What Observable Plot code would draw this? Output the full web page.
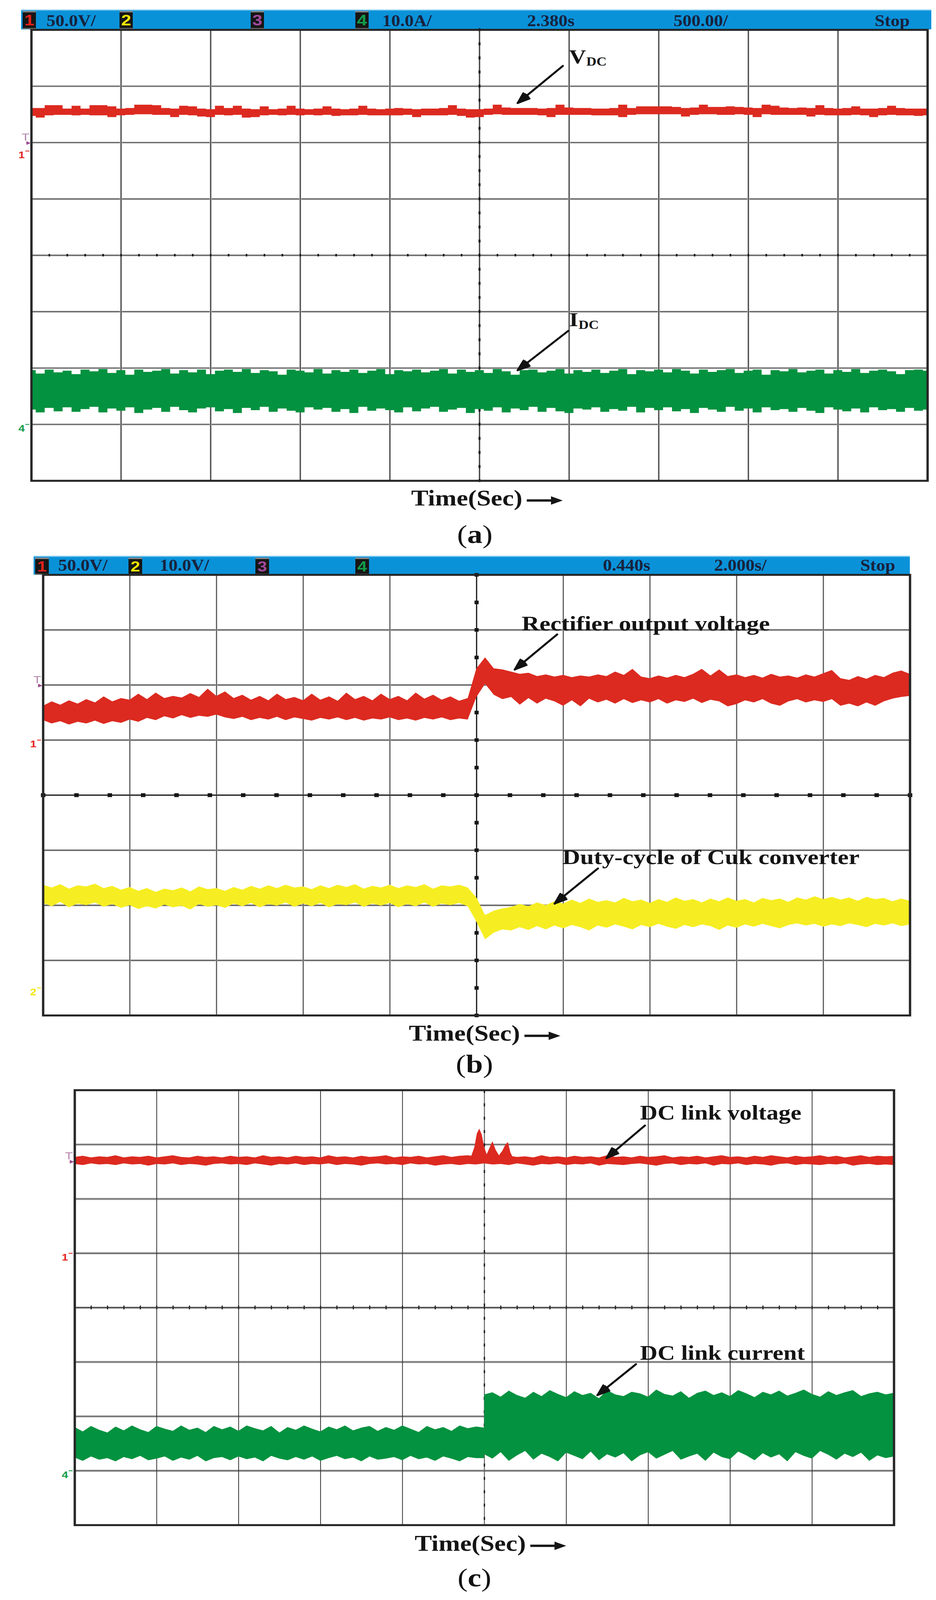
<!DOCTYPE html>
<html>
<head>
<meta charset="utf-8">
<script src="https://cdn.jsdelivr.net/npm/d3@7"></script>
<script src="https://cdn.jsdelivr.net/npm/@observablehq/plot@0.6"></script>
<style>
html, body { margin: 0; padding: 0; background: #fff; overflow: hidden; }
#page { position: relative; width: 2397px; height: 4797px; overflow: hidden; background: #fff; }
#page svg { display: block; }
</style>
</head>
<body>
<div id="page"></div>
<script>
// ---------------- DATA (in scope divisions) ----------------
const xs = d3.range(101).map(i => (i - 50) / 10);

const aVdcHi = [
  2.61,2.61,2.66,2.66,2.60,2.65,2.60,2.66,2.66,2.64,
  2.60,2.61,2.67,2.67,2.66,2.61,2.60,2.65,2.64,2.60,
  2.59,2.65,2.61,2.65,2.60,2.59,2.64,2.59,2.60,2.65,
  2.60,2.59,2.60,2.64,2.60,2.59,2.60,2.65,2.60,2.59,
  2.60,2.61,2.60,2.59,2.60,2.60,2.61,2.66,2.60,2.59,
  2.59,2.60,2.67,2.62,2.61,2.61,2.61,2.60,2.61,2.67,
  2.62,2.61,2.61,2.60,2.60,2.61,2.67,2.61,2.64,2.64,
  2.64,2.64,2.63,2.61,2.62,2.67,2.63,2.63,2.64,2.63,
  2.62,2.61,2.67,2.65,2.62,2.61,2.62,2.61,2.66,2.61,
  2.60,2.61,2.64,2.60,2.60,2.61,2.65,2.61,2.60,2.60,
  2.60];
const aVdcLo = [
  2.47,2.44,2.48,2.49,2.49,2.48,2.49,2.48,2.48,2.45,
  2.48,2.49,2.50,2.50,2.49,2.49,2.45,2.49,2.48,2.46,
  2.45,2.49,2.48,2.49,2.44,2.45,2.48,2.49,2.48,2.49,
  2.48,2.49,2.48,2.49,2.47,2.48,2.48,2.49,2.48,2.48,
  2.48,2.48,2.49,2.45,2.48,2.48,2.48,2.49,2.47,2.44,
  2.45,2.49,2.50,2.49,2.49,2.49,2.49,2.48,2.45,2.49,
  2.49,2.49,2.49,2.48,2.48,2.48,2.45,2.49,2.50,2.50,
  2.50,2.50,2.50,2.46,2.49,2.50,2.50,2.49,2.49,2.50,
  2.49,2.45,2.50,2.49,2.49,2.49,2.49,2.46,2.49,2.48,
  2.48,2.48,2.49,2.48,2.45,2.48,2.49,2.48,2.48,2.47,
  2.48];
const aIdcHi = [
  -2.04,-2.10,-2.03,-2.08,-2.05,-2.11,-2.03,-2.06,-2.02,-2.09,
  -2.04,-2.12,-2.03,-2.07,-2.05,-2.02,-2.10,-2.04,-2.08,-2.03,
  -2.11,-2.05,-2.03,-2.07,-2.02,-2.09,-2.04,-2.06,-2.12,-2.03,
  -2.05,-2.08,-2.02,-2.10,-2.04,-2.07,-2.03,-2.09,-2.05,-2.02,
  -2.11,-2.04,-2.06,-2.03,-2.08,-2.05,-2.02,-2.10,-2.03,-2.07,
  -2.04,-2.09,-2.02,-2.06,-2.12,-2.04,-2.03,-2.08,-2.05,-2.02,
  -2.10,-2.04,-2.07,-2.03,-2.09,-2.05,-2.02,-2.11,-2.04,-2.06,
  -2.03,-2.08,-2.02,-2.05,-2.10,-2.03,-2.07,-2.04,-2.02,-2.09,
  -2.05,-2.03,-2.12,-2.04,-2.06,-2.02,-2.08,-2.05,-2.03,-2.10,
  -2.04,-2.07,-2.02,-2.09,-2.05,-2.03,-2.06,-2.11,-2.04,-2.03,
  -2.05];
const aIdcLo = [
  -2.74,-2.79,-2.71,-2.77,-2.70,-2.78,-2.73,-2.69,-2.79,-2.72,
  -2.76,-2.70,-2.80,-2.74,-2.71,-2.78,-2.69,-2.75,-2.79,-2.72,
  -2.70,-2.77,-2.73,-2.80,-2.71,-2.75,-2.69,-2.78,-2.72,-2.76,
  -2.79,-2.70,-2.74,-2.71,-2.78,-2.73,-2.80,-2.69,-2.76,-2.72,
  -2.75,-2.79,-2.70,-2.77,-2.72,-2.69,-2.78,-2.74,-2.71,-2.80,
  -2.73,-2.76,-2.70,-2.79,-2.72,-2.75,-2.69,-2.78,-2.71,-2.77,
  -2.80,-2.72,-2.74,-2.70,-2.78,-2.73,-2.76,-2.69,-2.79,-2.71,
  -2.75,-2.70,-2.77,-2.73,-2.80,-2.71,-2.74,-2.78,-2.69,-2.76,
  -2.72,-2.79,-2.70,-2.75,-2.73,-2.78,-2.71,-2.76,-2.80,-2.70,
  -2.74,-2.77,-2.72,-2.79,-2.70,-2.75,-2.73,-2.78,-2.71,-2.76,
  -2.74];

const bRectHi = [
  1.62,1.70,1.64,1.72,1.66,1.74,1.68,1.79,1.70,1.76,
  1.73,1.84,1.74,1.86,1.76,1.80,1.77,1.85,1.78,1.93,
  1.80,1.88,1.76,1.82,1.73,1.80,1.72,1.84,1.74,1.78,
  1.72,1.84,1.73,1.79,1.71,1.86,1.74,1.80,1.72,1.84,
  1.74,1.80,1.72,1.86,1.75,1.82,1.73,1.79,1.71,1.76,
  2.30,2.50,2.30,2.28,2.24,2.20,2.22,2.16,2.19,2.15,
  2.18,2.14,2.17,2.15,2.19,2.16,2.24,2.18,2.29,2.15,
  2.12,2.17,2.13,2.18,2.14,2.20,2.29,2.17,2.28,2.16,
  2.19,2.14,2.18,2.13,2.20,2.15,2.17,2.13,2.19,2.15,
  2.21,2.27,2.12,2.09,2.16,2.11,2.18,2.14,2.22,2.26,
  2.20];
const bRectLo = [
  1.36,1.30,1.34,1.28,1.33,1.30,1.35,1.29,1.34,1.31,
  1.37,1.33,1.40,1.36,1.43,1.39,1.45,1.40,1.44,1.42,
  1.46,1.41,1.38,1.42,1.36,1.40,1.37,1.42,1.36,1.41,
  1.38,1.35,1.40,1.37,1.41,1.36,1.40,1.35,1.39,1.37,
  1.41,1.36,1.39,1.35,1.40,1.37,1.41,1.36,1.39,1.37,
  1.78,2.02,1.82,1.74,1.78,1.64,1.76,1.66,1.75,1.70,
  1.62,1.72,1.61,1.75,1.68,1.73,1.66,1.74,1.67,1.72,
  1.68,1.74,1.66,1.72,1.69,1.75,1.67,1.73,1.70,1.61,
  1.65,1.72,1.68,1.74,1.66,1.62,1.70,1.74,1.68,1.72,
  1.69,1.74,1.62,1.66,1.61,1.68,1.62,1.70,1.75,1.78,
  1.80];
const bDutyHi = [
  -1.63,-1.68,-1.62,-1.70,-1.64,-1.66,-1.61,-1.69,-1.65,-1.72,
  -1.67,-1.74,-1.69,-1.76,-1.70,-1.73,-1.68,-1.75,-1.66,-1.71,
  -1.69,-1.74,-1.67,-1.72,-1.65,-1.70,-1.64,-1.69,-1.63,-1.68,
  -1.66,-1.71,-1.64,-1.69,-1.63,-1.67,-1.62,-1.70,-1.65,-1.68,
  -1.63,-1.69,-1.64,-1.67,-1.62,-1.70,-1.64,-1.66,-1.63,-1.68,
  -1.86,-2.18,-2.10,-2.06,-2.03,-1.98,-2.02,-1.95,-2.00,-1.93,
  -1.97,-1.90,-1.96,-1.88,-1.94,-1.91,-1.95,-1.87,-1.93,-1.90,
  -1.96,-1.89,-1.94,-1.86,-1.92,-1.89,-1.95,-1.88,-1.93,-1.86,
  -1.92,-1.89,-1.95,-1.87,-1.91,-1.88,-1.94,-1.86,-1.90,-1.84,
  -1.89,-1.85,-1.90,-1.86,-1.92,-1.85,-1.89,-1.87,-1.93,-1.88,
  -1.92];
const bDutyLo = [
  -1.96,-2.02,-1.94,-2.04,-1.97,-2.00,-1.95,-2.03,-1.98,-2.05,
  -2.00,-2.07,-2.02,-2.06,-1.99,-2.04,-2.01,-2.08,-1.98,-2.03,
  -2.00,-2.05,-1.97,-2.02,-1.96,-2.04,-1.98,-2.01,-1.95,-2.03,
  -1.97,-2.02,-1.96,-2.04,-1.98,-2.00,-1.95,-2.03,-1.97,-2.01,
  -1.96,-2.04,-1.98,-2.02,-1.95,-2.03,-1.97,-2.00,-1.96,-2.02,
  -2.30,-2.62,-2.50,-2.44,-2.46,-2.40,-2.45,-2.38,-2.44,-2.37,
  -2.42,-2.36,-2.40,-2.46,-2.37,-2.41,-2.35,-2.39,-2.44,-2.36,
  -2.40,-2.34,-2.39,-2.43,-2.36,-2.40,-2.35,-2.38,-2.45,-2.37,
  -2.41,-2.35,-2.39,-2.34,-2.38,-2.42,-2.36,-2.33,-2.37,-2.34,
  -2.39,-2.35,-2.38,-2.33,-2.36,-2.40,-2.34,-2.37,-2.33,-2.38,
  -2.35];

const cVoltHi = [
  2.77,2.79,2.76,2.78,2.77,2.80,2.76,2.78,2.77,2.79,
  2.76,2.78,2.80,2.77,2.76,2.79,2.77,2.78,2.76,2.79,
  2.77,2.78,2.76,2.80,2.77,2.78,2.76,2.79,2.77,2.78,
  2.76,2.80,2.77,2.78,2.76,2.79,2.77,2.78,2.80,2.76,
  2.78,2.77,2.79,2.76,2.78,2.80,2.77,2.79,2.80,2.78,
  2.77,2.78,2.76,2.79,2.77,2.78,2.76,2.80,2.77,2.78,
  2.76,2.79,2.77,2.78,2.76,2.80,2.77,2.78,2.76,2.79,
  2.77,2.78,2.80,2.76,2.78,2.77,2.79,2.76,2.78,2.80,
  2.77,2.78,2.76,2.79,2.77,2.80,2.78,2.76,2.79,2.77,
  2.78,2.80,2.77,2.79,2.76,2.78,2.80,2.77,2.79,2.78,
  2.79];
const cVoltLo = [
  2.64,2.62,2.65,2.63,2.64,2.62,2.65,2.63,2.64,2.61,
  2.64,2.63,2.65,2.62,2.64,2.63,2.61,2.64,2.65,2.63,
  2.64,2.62,2.65,2.63,2.61,2.64,2.63,2.65,2.62,2.64,
  2.63,2.65,2.62,2.64,2.63,2.61,2.64,2.65,2.63,2.64,
  2.62,2.65,2.63,2.64,2.61,2.63,2.64,2.62,2.64,2.63,
  2.65,2.63,2.64,2.62,2.65,2.63,2.61,2.64,2.63,2.65,
  2.62,2.64,2.63,2.65,2.61,2.64,2.63,2.62,2.64,2.65,
  2.63,2.61,2.64,2.65,2.62,2.64,2.63,2.65,2.61,2.64,
  2.63,2.65,2.62,2.64,2.63,2.61,2.64,2.65,2.62,2.64,
  2.63,2.62,2.64,2.63,2.65,2.61,2.63,2.64,2.62,2.63,
  2.62];
const cSpikeX  = [-0.16,-0.12,-0.09,-0.06,-0.03,0.00,0.03,0.06,0.10,0.14,0.18,0.22,0.26,0.29,0.32,0.35];
const cSpikeHi = [2.78,2.95,3.20,3.29,3.18,2.95,2.82,2.92,3.06,2.90,2.80,2.88,3.00,3.04,2.85,2.76];
const cSpikeLo = [2.66,2.66,2.68,2.70,2.70,2.68,2.66,2.68,2.70,2.68,2.66,2.68,2.70,2.70,2.67,2.66];
const cCurBeforeHi = [
  -2.20,-2.28,-2.18,-2.25,-2.30,-2.19,-2.26,-2.17,-2.24,-2.29,
  -2.18,-2.23,-2.27,-2.17,-2.25,-2.21,-2.29,-2.18,-2.24,-2.19,
  -2.27,-2.17,-2.22,-2.26,-2.18,-2.30,-2.20,-2.25,-2.17,-2.23,
  -2.28,-2.19,-2.24,-2.17,-2.26,-2.21,-2.18,-2.27,-2.20,-2.25,
  -2.17,-2.23,-2.29,-2.18,-2.24,-2.20,-2.27,-2.17,-2.22,-2.19,
  -2.21];
const cCurBeforeLo = [
  -2.76,-2.82,-2.74,-2.80,-2.77,-2.83,-2.75,-2.79,-2.73,-2.81,
  -2.78,-2.74,-2.82,-2.76,-2.80,-2.73,-2.83,-2.77,-2.75,-2.81,
  -2.74,-2.79,-2.76,-2.83,-2.73,-2.78,-2.81,-2.75,-2.80,-2.74,
  -2.82,-2.77,-2.73,-2.79,-2.76,-2.83,-2.74,-2.80,-2.78,-2.75,
  -2.81,-2.73,-2.79,-2.76,-2.82,-2.74,-2.78,-2.83,-2.75,-2.77,
  -2.77];
const cCurAfterHi = [
  -1.60,-1.56,-1.64,-1.53,-1.61,-1.66,-1.55,-1.63,-1.52,-1.59,
  -1.65,-1.54,-1.61,-1.57,-1.67,-1.52,-1.60,-1.63,-1.55,-1.58,
  -1.64,-1.51,-1.59,-1.62,-1.54,-1.66,-1.57,-1.53,-1.61,-1.56,
  -1.63,-1.52,-1.58,-1.65,-1.55,-1.60,-1.53,-1.62,-1.57,-1.51,
  -1.59,-1.64,-1.54,-1.61,-1.56,-1.52,-1.63,-1.58,-1.55,-1.60,
  -1.57];
const cCurAfterLo = [
  -2.70,-2.78,-2.66,-2.82,-2.72,-2.64,-2.80,-2.69,-2.75,-2.83,
  -2.67,-2.73,-2.79,-2.65,-2.81,-2.70,-2.76,-2.68,-2.83,-2.72,
  -2.66,-2.78,-2.71,-2.64,-2.80,-2.74,-2.69,-2.82,-2.67,-2.75,
  -2.79,-2.65,-2.72,-2.81,-2.68,-2.76,-2.70,-2.83,-2.66,-2.73,
  -2.78,-2.64,-2.71,-2.80,-2.69,-2.75,-2.67,-2.82,-2.72,-2.77,
  -2.74];

const notesA = [{text: "V", sub: "DC", x: 1.0, y: 3.41}, {text: "I", sub: "DC", x: 1.0, y: -1.26}];
const arrowsA = [{x1: 0.93, y1: 3.36, x2: 0.425, y2: 2.70}, {x1: 0.99, y1: -1.34, x2: 0.425, y2: -2.04}];
const notesB = [{text: "Rectifier output voltage", x: 0.52, y: 2.99}, {text: "Duty-cycle of Cuk converter", x: 0.99, y: -1.25}];
const arrowsB = [{x1: 0.93, y1: 2.92, x2: 0.44, y2: 2.28}, {x1: 1.40, y1: -1.33, x2: 0.90, y2: -1.97}];
const notesC = [{text: "DC link voltage", x: 1.90, y: 3.46}, {text: "DC link current", x: 1.90, y: -0.96}];
const arrowsC = [{x1: 1.96, y1: 3.35, x2: 1.49, y2: 2.75}, {x1: 1.85, y1: -1.04, x2: 1.38, y2: -1.61}];

const groundA = [{ch: "1", level: 1.85}, {ch: "4", level: -3}];
const groundB = [{ch: "1", level: 1}, {ch: "2", level: -3.5}];
const groundC = [{ch: "1", level: 1}, {ch: "4", level: -3}];
const trigLevels = {a: 2, b: 2, c: 2.69};

const channels = ["1", "2", "3", "4"];
const headA = {scales: ["50.0V/", "", "", "10.0A/"], time: ["2.380s", "500.00/", "Stop"]};
const headB = {scales: ["50.0V/", "10.0V/", "", ""], time: ["0.440s", "2.000s/", "Stop"]};
const xLabel = "Time(Sec)";
const captions = ["a", "b", "c"];

// ---------------- STYLE / LAYOUT ----------------
const chColor = {"1": "#e2231c", "2": "#f3e600", "3": "#a3489a", "4": "#139c48"};
const RED = "#dc2a20", GREEN = "#03923f", YELLOW = "#f6ee22";
const panels = {
  a: {top: 0, height: 1470, ml: 80, mr: 22, mt: 89, mb: 29},
  b: {top: 1640, height: 1424, ml: 110, mr: 67, mt: 83, mb: 20},
  c: {top: 3200, height: 1392, ml: 191, mr: 108, mt: 68, mb: 20}
};
for (const k in panels) {
  const p = panels[k];
  p.pxX = (2397 - p.ml - p.mr) / 10;
}
const hdrLayout = {
  a: {left: 54, top: 29, w: 2331, h: 59, boxTop: 33, boxH: 54, boxW: 34, box: [58, 306, 642, 910], scaleX: [119, 0, 0, 979], timeX: [1350, 1725, 2240], base: 78, fs: 50, digitFs: 46},
  b: {left: 86, top: 1667, w: 2244, h: 56, boxTop: 1672, boxH: 51, boxW: 35, box: [90, 329, 654, 910], scaleX: [149, 409, 0, 0], timeX: [1544, 1829, 2203], base: 1711, fs: 50, digitFs: 44}
};
const xlabLayout = [{left: 1053, base: 1515}, {left: 1047, base: 3120}, {left: 1062, base: 4649}];
const capLayout = [{cx: 1216, base: 1628}, {cx: 1215, base: 3216}, {cx: 1215, base: 4756}];

const page = document.getElementById("page");
function el(tag, css, html) {
  const e = document.createElement(tag);
  e.style.cssText = css;
  if (html != null) e.innerHTML = html;
  page.appendChild(e);
  return e;
}
function serifText(str, left, base, fs, extra = "") {
  el("div", `position:absolute;left:${left}px;top:${base - 0.8375 * fs}px;font-family:'Liberation Serif',serif;font-weight:bold;font-size:${fs}px;line-height:${fs}px;white-space:nowrap;${extra}`, str);
}

function header(L, H) {
  el("div", `position:absolute;left:${L.left}px;top:${L.top}px;width:${L.w}px;height:${L.h}px;background:#0a92d9;box-shadow:inset 0 3px 0 #6cc2f0;`);
  channels.forEach((c, i) => {
    el("div", `position:absolute;left:${L.box[i]}px;top:${L.boxTop}px;width:${L.boxW}px;height:${L.boxH}px;box-sizing:border-box;background:#161616;border-top:4px solid #8d8d8d;border-bottom:3px solid #6f6f6f;color:${chColor[c]};font-family:'Liberation Sans',sans-serif;font-weight:bold;font-size:${L.digitFs}px;line-height:${L.boxH - 7}px;text-align:center;`, c);
    if (H.scales[i]) serifText(H.scales[i], L.scaleX[i], L.base, L.fs, "color:#17223d;transform:scaleX(0.92);transform-origin:left;");
  });
  H.time.forEach((t, i) => serifText(t, L.timeX[i], L.base, L.fs, "color:#17223d;transform:scaleX(0.92);transform-origin:left;"));
}
header(hdrLayout.a, headA);
header(hdrLayout.b, headB);

function band(x, hi, lo) { return x.map((xv, i) => ({x: xv, hi: hi[i], lo: lo[i]})); }
function gridMarks(g) {
  const vx = d3.range(-4, 5);
  const hy = d3.range(-3, 4);
  const m = [];
  if (g.hHaloW) m.push(Plot.ruleY(hy, {stroke: g.hHalo, strokeWidth: g.hHaloW}));
  m.push(Plot.ruleY(hy, {stroke: g.hCore, strokeWidth: g.hCoreW}));
  if (g.vHaloW) m.push(Plot.ruleX(vx, {stroke: g.vHalo, strokeWidth: g.vHaloW}));
  m.push(Plot.ruleX(vx, {stroke: g.vCore, strokeWidth: g.vCoreW}));
  return m;
}
function arrowMarks(arrows) {
  return [40, 24, 10, 0].map(a => Plot.arrow(arrows, {
    x1: "x1", y1: "y1", x2: "x2", y2: "y2",
    stroke: "#121212", strokeWidth: 5, headLength: 10, headAngle: a
  }));
}
function noteMarks(notes, fs, subFs, subDx) {
  const m = [];
  notes.forEach(n => {
    m.push(Plot.text([n], {x: "x", y: "y", text: "text", textAnchor: "start", lineAnchor: "bottom",
      fontSize: fs, fontWeight: "bold", fill: "#141414", fontFamily: "Liberation Serif, serif"}));
    if (n.sub) m.push(Plot.text([n], {x: "x", y: "y", text: "sub", textAnchor: "start", lineAnchor: "bottom",
      fontSize: subFs, fontWeight: "bold", fill: "#141414", fontFamily: "Liberation Serif, serif",
      dx: subDx[n.text], dy: 8}));
  });
  return m;
}
function markerMarks(ground, trig, p) {
  const m = [];
  ground.forEach(g => {
    m.push(Plot.text([g], {x: () => -5, y: "level", text: "ch", textAnchor: "end", lineAnchor: "top",
      dx: -17, dy: 1, fontSize: 29, fontWeight: "bold", fill: chColor[g.ch], fontFamily: "Liberation Sans, sans-serif"}));
    m.push(Plot.ruleY([g], {y: "level", x1: -5 - 15 / p.pxX, x2: -5 - 5 / p.pxX, stroke: chColor[g.ch], strokeWidth: 2.5}));
  });
  m.push(Plot.text([trig], {x: () => -5, y: d => d, text: () => "T", textAnchor: "middle", lineAnchor: "bottom",
    dx: -15, dy: -6, fontSize: 30, fill: "#b384ad", fontFamily: "DejaVu Sans, sans-serif"}));
  m.push(Plot.text([trig], {x: () => -5, y: d => d, text: () => "▸", textAnchor: "end", lineAnchor: "middle",
    dx: -2, fontSize: 22, fill: "#98488f", fontFamily: "DejaVu Sans, sans-serif"}));
  return m;
}
function scope(p, marks) {
  const svg = Plot.plot({
    width: 2397, height: p.height,
    marginLeft: p.ml, marginRight: p.mr, marginTop: p.mt, marginBottom: p.mb,
    x: {domain: [-5, 5], axis: null},
    y: {domain: [-4, 4], axis: null},
    style: {background: "transparent", overflow: "visible", fontFamily: "Liberation Serif, serif"},
    marks
  });
  const wrap = el("div", `position:absolute;left:0;top:${p.top}px;width:2397px;height:${p.height}px;`);
  wrap.appendChild(svg);
}

{
  const p = panels.a;
  const g = {hHalo: "#c6c6c6", hHaloW: 6, hCore: "#4f4f4f", hCoreW: 2.5, vHalo: "#cdcdcd", vHaloW: 5, vCore: "#3a3a3a", vCoreW: 2.5};
  const vt = d3.range(-16, 17).map(i => i / 4);
  const ht = d3.range(-25, 26).map(i => i / 5);
  scope(p, [
    ...gridMarks(g),
    Plot.ruleX([0], {stroke: "#2a2a2a", strokeWidth: 2}),
    Plot.ruleY([0], {stroke: "#555", strokeWidth: 1.5}),
    Plot.ruleX(vt, {x: () => 0, y1: d => d - 0.025, y2: d => d + 0.025, stroke: "#111", strokeWidth: 5}),
    Plot.ruleX(ht, {x: d => d, y1: -0.022, y2: 0.022, stroke: "#111", strokeWidth: 4}),
    Plot.areaY(band(xs, aVdcHi, aVdcLo), {x: "x", y1: "lo", y2: "hi", fill: RED, curve: "step"}),
    Plot.areaY(band(xs, aIdcHi, aIdcLo), {x: "x", y1: "lo", y2: "hi", fill: GREEN, curve: "step"}),
    Plot.frame({stroke: "#262626", strokeWidth: 6}),
    ...markerMarks(groundA, trigLevels.a, p),
    ...arrowMarks(arrowsA),
    ...noteMarks(notesA, 60, 36, {V: 44, I: 24})
  ]);
}
{
  const p = panels.b;
  const g = {hHalo: "#c6c6c6", hHaloW: 6, hCore: "#4a4a4a", hCoreW: 2.5, vHalo: "#d0d0d0", vHaloW: 4, vCore: "#3a3a3a", vCoreW: 2};
  const sqX = d3.range(0, 27).map(i => -5 + i * 10 / 26);
  const sqY = d3.range(-8, 9).map(i => i / 2);
  scope(p, [
    ...gridMarks(g),
    Plot.ruleX([0], {stroke: "#222", strokeWidth: 3}),
    Plot.ruleY([0], {stroke: "#222", strokeWidth: 3}),
    Plot.dot(sqX, {x: d => d, y: () => 0, symbol: "square", r: 6.5, fill: "#151515"}),
    Plot.dot(sqY, {x: () => 0, y: d => d, symbol: "square", r: 6, fill: "#151515"}),
    Plot.areaY(band(xs, bRectHi, bRectLo), {x: "x", y1: "lo", y2: "hi", fill: RED}),
    Plot.areaY(band(xs, bDutyHi, bDutyLo), {x: "x", y1: "lo", y2: "hi", fill: YELLOW}),
    Plot.frame({stroke: "#262626", strokeWidth: 6}),
    ...markerMarks(groundB, trigLevels.b, p),
    ...arrowMarks(arrowsB),
    ...noteMarks(notesB, 63, 36, {})
  ]);
}
{
  const p = panels.c;
  const g = {hHalo: "#d2d2d2", hHaloW: 8, hCore: "#5a5a5a", hCoreW: 3, vHaloW: 0, vCore: "#333", vCoreW: 2};
  const ht = d3.range(-25, 26).map(i => i / 5);
  const xsBefore = d3.range(51).map(i => (i - 50) / 10);
  const xsAfter = d3.range(51).map(i => i / 10);
  scope(p, [
    ...gridMarks(g),
    Plot.ruleX([0], {stroke: "#666", strokeWidth: 1.5}),
    Plot.ruleX([0], {stroke: "#1a1a1a", strokeWidth: 3.5, strokeDasharray: "9 31"}),
    Plot.ruleY([0], {stroke: "#333", strokeWidth: 2.5}),
    Plot.ruleX(ht, {x: d => d, y1: -0.035, y2: 0.035, stroke: "#222", strokeWidth: 3}),
    Plot.areaY(band(xs, cVoltHi, cVoltLo), {x: "x", y1: "lo", y2: "hi", fill: RED}),
    Plot.areaY(band(cSpikeX, cSpikeHi, cSpikeLo), {x: "x", y1: "lo", y2: "hi", fill: RED}),
    Plot.areaY(band(xsBefore, cCurBeforeHi, cCurBeforeLo), {x: "x", y1: "lo", y2: "hi", fill: GREEN}),
    Plot.areaY(band(xsAfter, cCurAfterHi, cCurAfterLo), {x: "x", y1: "lo", y2: "hi", fill: GREEN}),
    Plot.frame({stroke: "#262626", strokeWidth: 6}),
    ...markerMarks(groundC, trigLevels.c, p),
    ...arrowMarks(arrowsC),
    ...noteMarks(notesC, 62, 36, {})
  ]);
}

xlabLayout.forEach(L => {
  const fs = 66;
  serifText(xLabel, L.left, L.base, fs, "color:#151515;");
  el("div", `position:absolute;left:${L.left + 296}px;top:${L.base - 30}px;width:92px;height:30px;`,
    `<svg width="92" height="30" viewBox="0 0 92 30"><rect x="0" y="12" width="66" height="7" fill="#151515"/><polygon points="62,3 92,15.5 62,28" fill="#151515"/></svg>`);
});
capLayout.forEach((L, i) => {
  const fs = 78;
  el("div", `position:absolute;left:${L.cx - 150}px;width:300px;top:${L.base - 0.8375 * fs}px;text-align:center;font-family:'Liberation Serif',serif;font-size:${fs}px;line-height:${fs}px;color:#111;`,
    `(<b>${captions[i]}</b>)`);
});

// The figure is 4797 px tall; if the photographed viewport is shorter, fit the whole figure into it.
const vh = window.innerHeight;
if (vh > 0 && vh < 4797) {
  page.style.transformOrigin = "0 0";
  page.style.transform = `scale(1, ${vh / 4797})`;
}
</script>
</body>
</html>
